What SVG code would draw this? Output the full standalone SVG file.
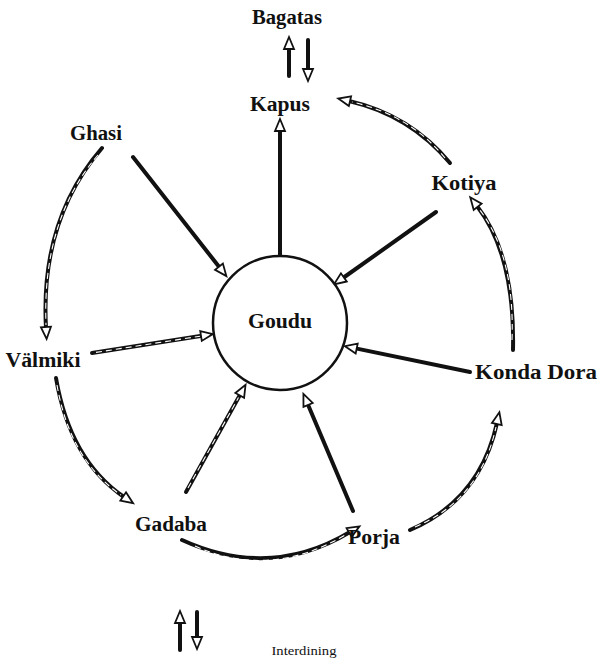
<svg xmlns="http://www.w3.org/2000/svg" width="601" height="666" viewBox="0 0 601 666">
<defs>
<marker id="h" markerUnits="userSpaceOnUse" markerWidth="16" markerHeight="14" refX="1" refY="0" viewBox="-2 -7 16 14" orient="auto" overflow="visible">
<path d="M0,-5 L12,0 L0,5 Z" fill="#fff" stroke="#111" stroke-width="1.8" stroke-linejoin="miter"/>
</marker>
</defs>
<style>
.lb{font-family:"Liberation Serif","Times New Roman",serif;font-weight:bold;font-size:20px;fill:#111;text-anchor:middle}
.sm{font-family:"Liberation Serif","Times New Roman",serif;font-size:13px;fill:#111;text-anchor:middle}
.o{fill:none;stroke:#111;stroke-width:4;stroke-linecap:round;marker-end:url(#h)}
.i{fill:none;stroke:#fff;stroke-width:1.1;stroke-dasharray:6 4}
</style>
<rect width="601" height="666" fill="#fff"/>
<g id="connectors">
<path class="o" d="M289,76 L289,48"/>
<path class="o" d="M308,40 L308,70"/>
<path class="o" d="M280,256 L280,130"/>
<path class="o" d="M450,163 Q410,115 349,101"/>
<path class="i" d="M445,158 Q410,115 352,102"/>
<path class="o" d="M513,350 Q515,255 477,206"/>
<path class="i" d="M512,340 Q515,255 479,209"/>
<path class="o" d="M436,212 L343,278"/>
<path class="o" d="M133,157 L219.6,267.5"/>
<path class="o" d="M92,353 L202,335.8"/>
<path class="i" d="M96,352.4 L200,336.2"/>
<path class="o" d="M470,372 L355.7,348.4"/>
<path class="o" d="M186,492 L240.2,394.5"/>
<path class="i" d="M188,488 L238.5,397.5"/>
<path class="o" d="M353,511 L307.7,404"/>
<path class="o" d="M102,148 Q40,220 46,328"/>
<path class="i" d="M98,155 Q42,220 46,325"/>
<path class="o" d="M56,378 Q70,460 124,497"/>
<path class="i" d="M57,385 Q70,460 121,495"/>
<path class="o" d="M182,540 Q270,580 350,532"/>
<path class="i" d="M195,546 Q270,580 347,534"/>
<path class="o" d="M410,530 Q480,500 497,423"/>
<path class="i" d="M415,527 Q480,500 496,427"/>
<path class="o" d="M180,650 L180,622"/>
<path class="o" d="M197,612 L197,638"/>
</g>
<g id="goudu">
<circle cx="280" cy="323" r="67" fill="#fff" stroke="#111" stroke-width="2.5"/>
<text class="lb" x="280" y="328" textLength="64" lengthAdjust="spacingAndGlyphs">Goudu</text>
</g>
<g id="bagatas"><text class="lb" x="287" y="24" textLength="70" lengthAdjust="spacingAndGlyphs">Bagatas</text></g>
<g id="kapus"><text class="lb" x="280" y="111" textLength="60" lengthAdjust="spacingAndGlyphs">Kapus</text></g>
<g id="ghasi"><text class="lb" x="96" y="140" textLength="52" lengthAdjust="spacingAndGlyphs">Ghasi</text></g>
<g id="kotiya"><text class="lb" x="464" y="190" textLength="65" lengthAdjust="spacingAndGlyphs">Kotiya</text></g>
<g id="valmiki"><text class="lb" x="43" y="367" textLength="75" lengthAdjust="spacingAndGlyphs">Välmiki</text></g>
<g id="kondadora"><text class="lb" x="536" y="379" textLength="122" lengthAdjust="spacingAndGlyphs">Konda Dora</text></g>
<g id="gadaba"><text class="lb" x="171" y="531" textLength="72" lengthAdjust="spacingAndGlyphs">Gadaba</text></g>
<g id="porja"><text class="lb" x="374" y="544" textLength="52" lengthAdjust="spacingAndGlyphs">Porja</text></g>
<g id="legend"><text class="sm" x="304" y="655" textLength="65" lengthAdjust="spacingAndGlyphs">Interdining</text></g>
</svg>
